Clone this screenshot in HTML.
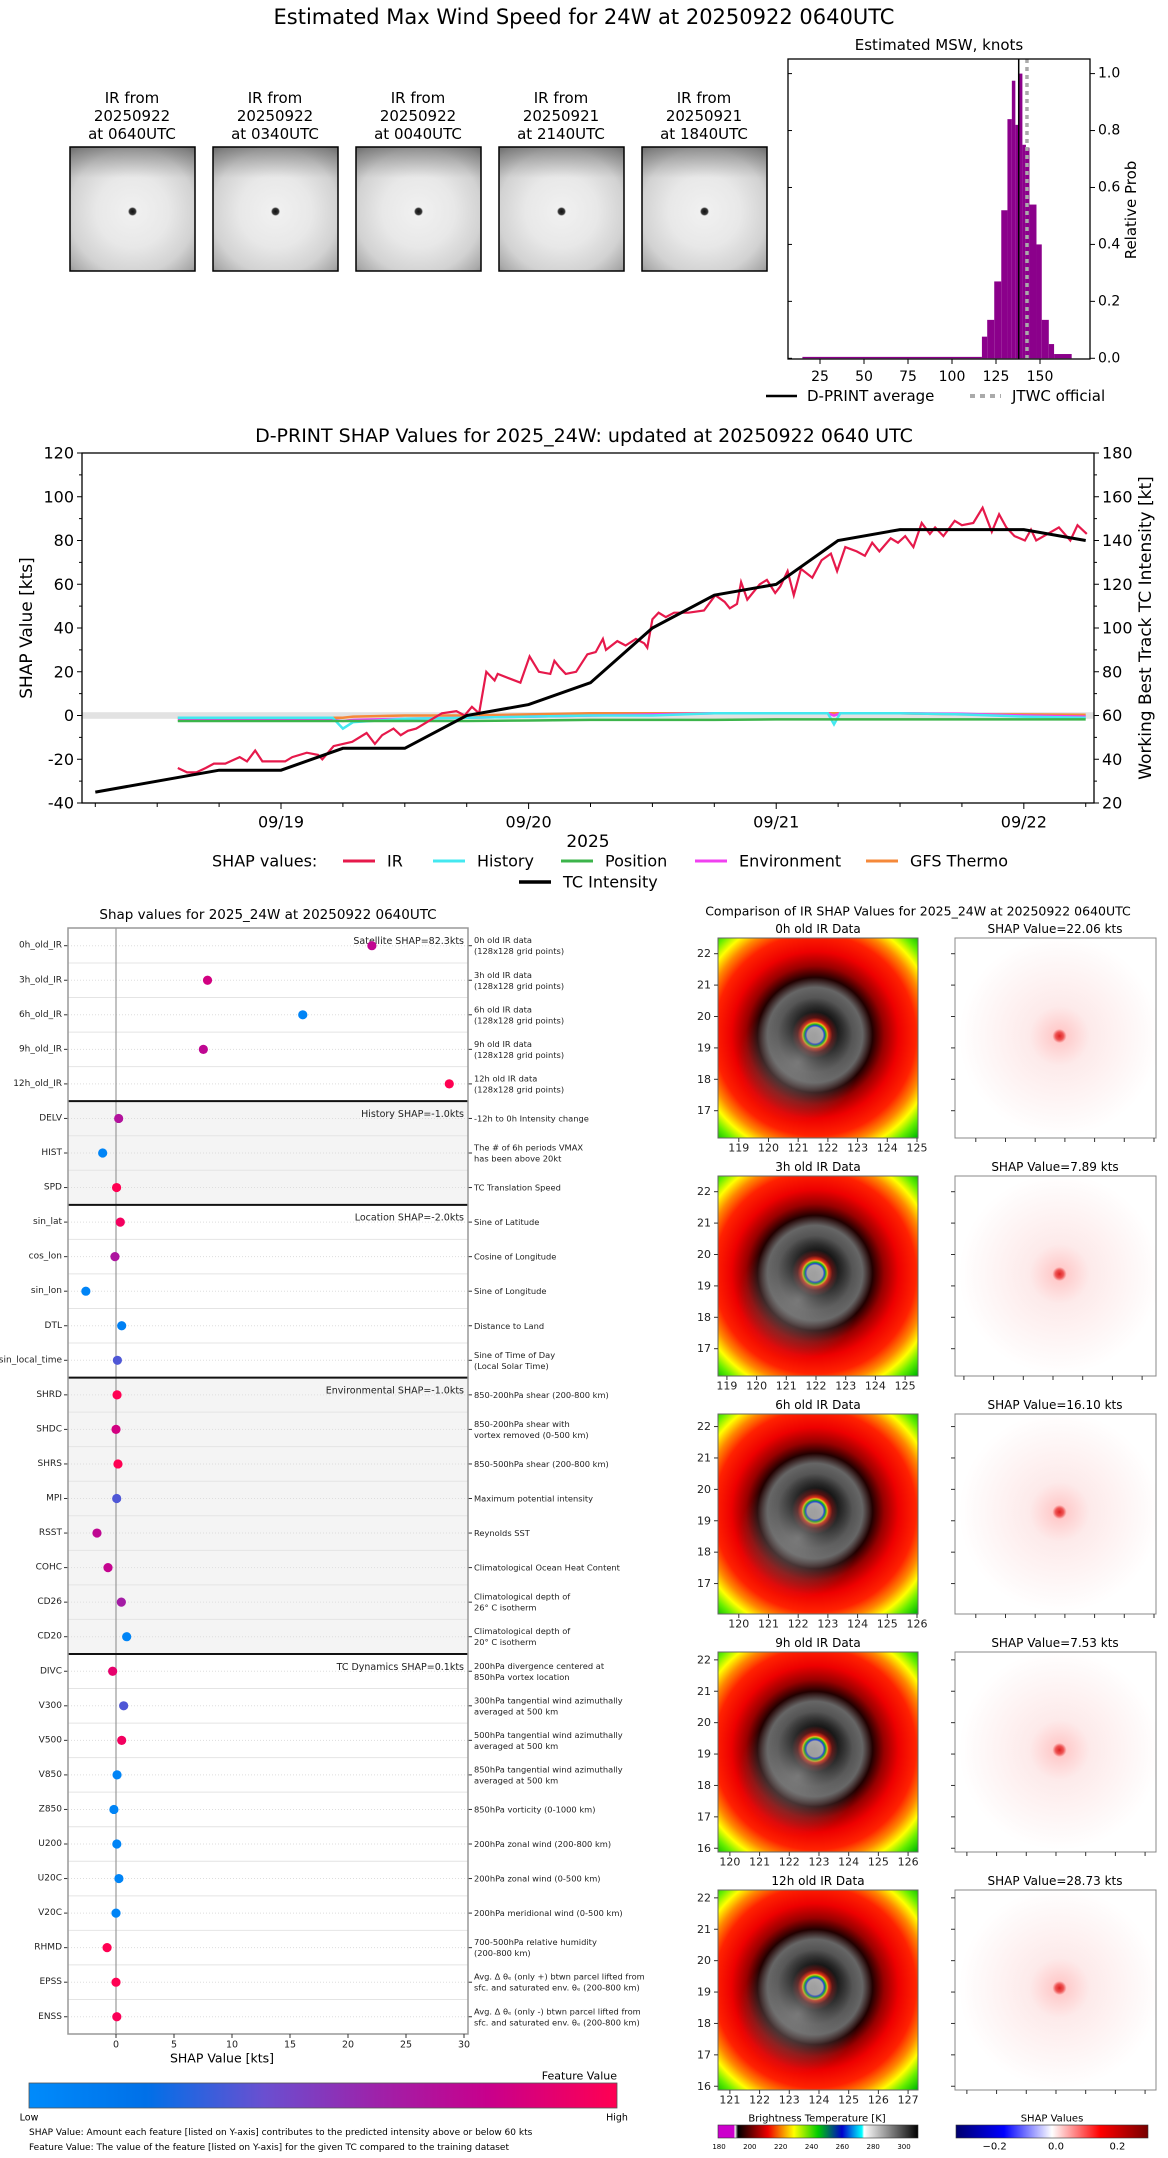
<!DOCTYPE html>
<html><head><meta charset="utf-8"><title>D-PRINT 24W</title>
<style>html,body{margin:0;padding:0;background:#fff}svg{display:block;font-family:"DejaVu Sans","Liberation Sans",sans-serif}</style>
</head><body>
<svg id="s" width="1168" height="2158" viewBox="0 0 1168 2158" xmlns="http://www.w3.org/2000/svg">
<defs>
<radialGradient id="gthumb" cx="50%" cy="52%" r="72%">
<stop offset="0" stop-color="#111"/><stop offset="0.035" stop-color="#333"/><stop offset="0.05" stop-color="#f0f0f0"/>
<stop offset="0.4" stop-color="#e8e8e8"/><stop offset="0.7" stop-color="#d2d2d2"/><stop offset="0.9" stop-color="#aaa"/><stop offset="1" stop-color="#888"/></radialGradient>
<linearGradient id="gthumbtop" x1="0" x2="0" y1="0" y2="1"><stop offset="0" stop-color="#555" stop-opacity="0.55"/><stop offset="0.25" stop-color="#777" stop-opacity="0"/><stop offset="1" stop-color="#777" stop-opacity="0"/></linearGradient>
<radialGradient id="gir" cx="48.5%" cy="48.5%" r="72%">
<stop offset="0" stop-color="#b8b8b8"/><stop offset="0.055" stop-color="#c0c0c0"/><stop offset="0.065" stop-color="#0030ff"/><stop offset="0.075" stop-color="#00d000"/><stop offset="0.085" stop-color="#ffe000"/><stop offset="0.095" stop-color="#ff2000"/><stop offset="0.12" stop-color="#500"/><stop offset="0.16" stop-color="#111"/><stop offset="0.26" stop-color="#555"/><stop offset="0.33" stop-color="#666"/><stop offset="0.4" stop-color="#200"/><stop offset="0.48" stop-color="#900"/><stop offset="0.58" stop-color="#e00"/><stop offset="0.7" stop-color="#f20"/><stop offset="0.78" stop-color="#f80"/><stop offset="0.85" stop-color="#ff0"/><stop offset="0.92" stop-color="#6e0"/><stop offset="1" stop-color="#0b0"/></radialGradient>
<radialGradient id="ggray" cx="40%" cy="62%" r="30%"><stop offset="0" stop-color="#888" stop-opacity="0.8"/><stop offset="1" stop-color="#666" stop-opacity="0"/></radialGradient>
<radialGradient id="gshap" cx="52%" cy="49%" r="50%">
<stop offset="0" stop-color="#d22"/><stop offset="0.04" stop-color="#e55"/><stop offset="0.07" stop-color="#fcc"/><stop offset="0.3" stop-color="#fdeaea"/><stop offset="0.7" stop-color="#fef6f6"/><stop offset="1" stop-color="#fff"/></radialGradient>
<linearGradient id="gfeat" x1="0" x2="1"><stop offset="0" stop-color="#008bfb"/><stop offset="0.2" stop-color="#0070e8"/><stop offset="0.4" stop-color="#6a4fd0"/><stop offset="0.6" stop-color="#a020a8"/><stop offset="0.78" stop-color="#c8008c"/><stop offset="1" stop-color="#ff0052"/></linearGradient>
<linearGradient id="gbt" x1="0" x2="1"><stop offset="0" stop-color="#c0c"/><stop offset="0.08" stop-color="#c0c"/><stop offset="0.085" stop-color="#fff"/><stop offset="0.1" stop-color="#000"/><stop offset="0.25" stop-color="#e00"/><stop offset="0.38" stop-color="#ff0"/><stop offset="0.5" stop-color="#0c0"/><stop offset="0.62" stop-color="#00c"/><stop offset="0.72" stop-color="#0ff"/><stop offset="0.73" stop-color="#fff"/><stop offset="1" stop-color="#000"/></linearGradient>
<linearGradient id="gsv" x1="0" x2="1"><stop offset="0" stop-color="#00006e"/><stop offset="0.25" stop-color="#0000ff"/><stop offset="0.5" stop-color="#fff"/><stop offset="0.75" stop-color="#f00"/><stop offset="1" stop-color="#700"/></linearGradient>
</defs>
<text x="584" y="24" font-size="21" text-anchor="middle">Estimated Max Wind Speed for 24W at 20250922 0640UTC</text>
</svg>
<script>
const svg=document.getElementById('s');const NS='http://www.w3.org/2000/svg';
function mk(tag,attrs,parent){const e=document.createElementNS(NS,tag);for(const k in attrs)e.setAttribute(k,attrs[k]);(parent||svg).appendChild(e);return e;}
function tx(str,x,y,size,anchor,extra){const e=mk('text',Object.assign({x:x,y:y,'font-size':size,'text-anchor':anchor||'start','dominant-baseline':'central'},extra||{}));e.textContent=str;return e;}

/* ---------- thumbnails ---------- */
const thumbDates=['20250922','20250922','20250922','20250921','20250921'];
const thumbTimes=['0640UTC','0340UTC','0040UTC','2140UTC','1840UTC'];
thumbDates.forEach((d,i)=>{const L=70+i*143;
 let t=tx('IR from',L+62,98,15,'middle');
 t=tx(d,L+62,116,15,'middle');
 t=tx('at '+thumbTimes[i],L+62,134,15,'middle');
 const r=mk('rect',{x:L,y:147,width:125,height:124,fill:'url(#gthumb)'});
 
 
 mk('rect',{x:L,y:147,width:125,height:124,fill:'url(#gthumbtop)',stroke:'#000','stroke-width':1.5});
});

/* ---------- histogram ---------- */
const histEdges=[15,117,120,124,128,131.5,134,136,138,140,142,144,148,151,155,158,168];
const histProb=[0.005,0.076,0.135,0.27,0.52,0.84,0.975,0.82,1.0,0.75,0.74,0.54,0.40,0.135,0.05,0.015];
const dprintAvg=137.9, jtwcOfficial=142.6;
const hx=k=>776+k*1.76, hy=p=>358.3-p*284.7;
for(let i=0;i<histProb.length;i++){const b=mk('rect',{x:hx(histEdges[i]),y:hy(histProb[i]),width:hx(histEdges[i+1])-hx(histEdges[i]),height:358.3-hy(histProb[i]),fill:'#8b008b'});
 
 }
let e=mk('line',{x1:hx(jtwcOfficial),x2:hx(jtwcOfficial),y1:59,y2:359,stroke:'#aaa','stroke-width':3.5,'stroke-dasharray':'4,4'});

e=mk('line',{x1:hx(dprintAvg),x2:hx(dprintAvg),y1:59,y2:359,stroke:'#000','stroke-width':1.5});

e=mk('rect',{x:788,y:59,width:302,height:300,fill:'none',stroke:'#000','stroke-width':1.3});

e=tx('Estimated MSW, knots',939,45,15,'middle');
const histXTicks=[25,50,75,100,125,150];
histXTicks.forEach(v=>{mk('line',{x1:hx(v),x2:hx(v),y1:359,y2:364,stroke:'#000'});
 const t=tx(String(v),hx(v),377,14,'middle');});
const histYTicks=[0,0.2,0.4,0.6,0.8,1.0];
histYTicks.forEach(v=>{mk('line',{x1:1090,x2:1095,y1:hy(v),y2:hy(v),stroke:'#000'});mk('line',{x1:788,x2:792,y1:hy(v),y2:hy(v),stroke:'#000'});
 const t=tx(v.toFixed(1),1098,hy(v),14,'start');});
e=tx('Relative Prob',1131,210,15,'middle',{transform:'rotate(-90 1131 210)'});
e=mk('line',{x1:766,x2:797,y1:396,y2:396,stroke:'#000','stroke-width':2.5});
e=tx('D-PRINT average',807,396,15,'start');
e=mk('line',{x1:970,x2:1001,y1:396,y2:396,stroke:'#aaa','stroke-width':4,'stroke-dasharray':'5,5'});
e=tx('JTWC official',1012,396,15,'start');

/* ---------- SHAP time series ---------- */
const irHours=[14,14.9,15.8,16.7,17.5,18.6,20,20.7,21.5,22.2,22.9,24.4,25.1,26.5,27.6,28,29.1,30.9,32.3,33.1,33.8,34.9,35.6,36.3,37.1,38.5,39.6,41,41.8,42.5,43.2,43.9,44.7,45,46.1,47.2,48.1,49,50.1,50.5,51,51.6,52.6,53.7,54.5,55.2,55.5,56.6,57.4,58.4,59.2,59.5,60,60.6,61.3,62.1,63.5,65,66.1,67,67.5,68.2,68.6,69.2,70.4,71.1,71.9,72.4,73.1,73.7,74.4,75.5,76.4,77.3,77.9,78.7,79.8,80.6,81.3,82,83.1,83.8,84.5,85.3,86.1,86.9,87.4,88.2,89.3,90,91.1,92,92.9,93.6,94.3,95.1,96.1,96.7,97.2,98.3,99.4,100.5,101.2,102.1];
const irShap=[-24,-26,-26,-24,-22,-22,-19,-21,-16,-21,-21,-21,-19,-17,-18,-20,-14,-12,-8,-13,-9,-6,-9,-7,-6,-2,1,2,0,4,1,20,16,19,17,15,27,20,19,25,22,19,20,28,29,35,30,34,32,35,33,31,44,47,45,47,47,48,55,52,49,51,61,53,60,62,56,59,66,55,67,63,71,74,66,77,75,73,79,75,81,79,82,77,88,83,86,82,89,87,88,95,84,92,86,82,80,85,80,83,86,80,87,83];
const minorHours=[14,24,29,30,31,36,42,48,54,60,66,72,77,77.6,78.2,84,90,96,102];
const historyShap=[-1,-1,-1,-6,-3,-1.5,-1,-0.5,0,0,1,1,1,-4,1,1,0.5,-0.5,-1];
const positionShap=[-2.5,-2.5,-2.5,-2.5,-2.5,-2.5,-2.5,-2.3,-2,-2,-2,-1.8,-1.8,-1.8,-1.8,-1.8,-1.8,-1.8,-1.8];
const environmentShap=[-2,-2,-2,-2.5,-2,-1.5,-1,-0.5,0,0.5,1,1,1,0,1,1,0.8,0,-0.5];
const gfsShap=[-1,-1,-1,-1,-0.5,0,0,0.5,1,1,1,1,1,1,1,1,0.5,0.5,0.3];
const tcHours=[6,18,24,30,36,42,48,54,60,66,72,78,84,90,96,102];
const tcIntensity=[25,35,35,45,45,60,65,75,100,115,120,140,145,145,145,140];
const dateLabels=['09/19','09/20','09/21','09/22'];
const leftTicks=[-40,-20,0,20,40,60,80,100,120];
const rightTicks=[20,40,60,80,100,120,140,160,180];
const xT=t=>281+(t-24)*10.317, yL=v=>453+(120-v)*2.1875, yR=k=>453+(180-k)*2.1875;
e=tx('D-PRINT SHAP Values for 2025_24W: updated at 20250922 0640 UTC',584,436,19,'middle');
e=mk('rect',{x:82,y:yL(1.5),width:1012,height:yL(-1.5)-yL(1.5),fill:'#e2e2e2'});
function path(xs,ys,fx,fy){return xs.map((t,i)=>(i?'L':'M')+fx(t).toFixed(1)+','+fy(ys[i]).toFixed(1)).join(' ');}
const minorSeries=[[gfsShap,'#f5893a','gfs-thermo-line'],[environmentShap,'#f040f0','environment-line'],[historyShap,'#44e8f0','history-line'],[positionShap,'#3cb44b','position-line']];
minorSeries.forEach(s=>{const p=mk('path',{d:path(minorHours,s[0],xT,yL),fill:'none',stroke:s[1],'stroke-width':2.5});
 
 });
e=mk('path',{d:path(irHours,irShap,xT,yL),fill:'none',stroke:'#e6194b','stroke-width':2.2});
e=mk('path',{d:path(tcHours,tcIntensity,xT,yR),fill:'none',stroke:'#000','stroke-width':3});
e=mk('rect',{x:82,y:453,width:1012,height:350,fill:'none',stroke:'#000','stroke-width':1.3});
leftTicks.forEach(v=>{mk('line',{x1:77,x2:82,y1:yL(v),y2:yL(v),stroke:'#000'});if(v<120)mk('line',{x1:79,x2:82,y1:yL(v+10),y2:yL(v+10),stroke:'#000'});
 const t=tx(String(v),74,yL(v),16,'end');});
rightTicks.forEach(v=>{mk('line',{x1:1094,x2:1099,y1:yR(v),y2:yR(v),stroke:'#000'});if(v<180)mk('line',{x1:1094,x2:1097,y1:yR(v+10),y2:yR(v+10),stroke:'#000'});
 const t=tx(String(v),1102,yR(v),16,'start');});
for(let h=6;h<=102;h+=6){mk('line',{x1:xT(h),x2:xT(h),y1:803,y2:h%24?807:809,stroke:'#000'});}
dateLabels.forEach((d,i)=>{const t=tx(d,xT(24*(i+1)),822,16,'middle');});
e=tx('2025',588,842,17,'middle');
e=tx('SHAP Value [kts]',27,628,17,'middle',{transform:'rotate(-90 27 628)'});
e=tx('Working Best Track TC Intensity [kt]',1146,628,17,'middle',{transform:'rotate(-90 1146 628)'});
e=tx('SHAP values:',212,861,16,'start');
const legendItems=[['IR','#e6194b',343],['History','#44e8f0',433],['Position','#3cb44b',561],['Environment','#f040f0',695],['GFS Thermo','#f5893a',866]];
legendItems.forEach(l=>{const s=mk('line',{x1:l[2],x2:l[2]+32,y1:861,y2:861,stroke:l[1],'stroke-width':3});
 
 const t=tx(l[0],l[2]+44,861,16,'start');});
e=mk('line',{x1:519,x2:551,y1:882,y2:882,stroke:'#000','stroke-width':3.5});
e=tx('TC Intensity',563,882,16,'start');

/* ---------- feature SHAP dot panel ---------- */
const features=['0h_old_IR','3h_old_IR','6h_old_IR','9h_old_IR','12h_old_IR','DELV','HIST','SPD','sin_lat','cos_lon','sin_lon','DTL','sin_local_time','SHRD','SHDC','SHRS','MPI','RSST','COHC','CD26','CD20','DIVC','V300','V500','V850','Z850','U200','U20C','V20C','RHMD','EPSS','ENSS'];
const featureShap=[22.06,7.89,16.10,7.53,28.73,0.23,-1.15,0.05,0.37,-0.09,-2.6,0.49,0.12,0.09,0.0,0.17,0.06,-1.64,-0.69,0.46,0.92,-0.29,0.66,0.49,0.09,-0.18,0.07,0.25,0.0,-0.77,0.0,0.07];
const featureVal=[0.75,0.82,0.05,0.74,1.0,0.68,0.05,1.0,0.95,0.66,0.05,0.08,0.35,1.0,0.82,1.0,0.35,0.74,0.76,0.62,0.05,0.9,0.35,0.95,0.05,0.05,0.05,0.05,0.05,1.0,1.0,0.98];
const featureDesc=[['0h old IR data','(128x128 grid points)'],['3h old IR data','(128x128 grid points)'],['6h old IR data','(128x128 grid points)'],['9h old IR data','(128x128 grid points)'],['12h old IR data','(128x128 grid points)'],['-12h to 0h Intensity change'],['The # of 6h periods VMAX','has been above 20kt'],['TC Translation Speed'],['Sine of Latitude'],['Cosine of Longitude'],['Sine of Longitude'],['Distance to Land'],['Sine of Time of Day','(Local Solar Time)'],['850-200hPa shear (200-800 km)'],['850-200hPa shear with','vortex removed (0-500 km)'],['850-500hPa shear (200-800 km)'],['Maximum potential intensity'],['Reynolds SST'],['Climatological Ocean Heat Content'],['Climatological depth of','26° C isotherm'],['Climatological depth of','20° C isotherm'],['200hPa divergence centered at','850hPa vortex location'],['300hPa tangential wind azimuthally','averaged at 500 km'],['500hPa tangential wind azimuthally','averaged at 500 km'],['850hPa tangential wind azimuthally','averaged at 500 km'],['850hPa vorticity (0-1000 km)'],['200hPa zonal wind (200-800 km)'],['200hPa zonal wind (0-500 km)'],['200hPa meridional wind (0-500 km)'],['700-500hPa relative humidity','(200-800 km)'],['Avg. Δ θₑ (only +) btwn parcel lifted from','sfc. and saturated env. θₑ (200-800 km)'],['Avg. Δ θₑ (only -) btwn parcel lifted from','sfc. and saturated env. θₑ (200-800 km)']];
const groupNames=['Satellite SHAP=82.3kts','History SHAP=-1.0kts','Location SHAP=-2.0kts','Environmental SHAP=-1.0kts','TC Dynamics SHAP=0.1kts'];
const groupStart=[0,5,8,13,21];
const shapXTicks=[0,5,10,15,20,25,30];
const fx=v=>116+v*11.6, fy=i=>945.7+i*34.55;
e=tx('Shap values for 2025_24W at 20250922 0640UTC',268,915,13.5,'middle');
[[5,8],[13,21]].forEach(g=>{const r=mk('rect',{x:68,y:fy(g[0]-0.5),width:400,height:fy(g[1]-0.5)-fy(g[0]-0.5),fill:'#f4f4f4'});});
for(let i=0;i<features.length;i++){mk('line',{x1:68,x2:468,y1:fy(i+0.5),y2:fy(i+0.5),stroke:'#e4e4e4'});mk('line',{x1:68,x2:468,y1:fy(i),y2:fy(i),stroke:'#ddd','stroke-dasharray':'1,2'});}
e=mk('line',{x1:fx(0),x2:fx(0),y1:928,y2:2034,stroke:'#999','stroke-width':1.2});
groupStart.forEach((g,k)=>{if(k>0){const l=mk('line',{x1:68,x2:468,y1:fy(g-0.5),y2:fy(g-0.5),stroke:'#111','stroke-width':2});}
 const t=tx(groupNames[k],464,fy(g)-4,9.5,'end',{fill:'#222'});});
function fcol(v){const st=[[0,[0,139,251]],[0.2,[0,112,232]],[0.4,[106,79,208]],[0.6,[160,32,168]],[0.78,[200,0,140]],[1,[255,0,82]]];for(let i=1;i<st.length;i++){if(v<=st[i][0]){const a=st[i-1],b=st[i],f=(v-a[0])/(b[0]-a[0]);return 'rgb('+a[1].map((c,j)=>Math.round(c+(b[1][j]-c)*f)).join(',')+')';}}return 'rgb(255,0,82)';}
features.forEach((f,i)=>{mk('line',{x1:64,x2:68,y1:fy(i),y2:fy(i),stroke:'#333'});mk('line',{x1:468,x2:472,y1:fy(i),y2:fy(i),stroke:'#333'});
 const t=tx(f,62,fy(i),9,'end',{fill:'#222'});
 const d=featureDesc[i];d.forEach((s,j)=>{const q=tx(s,474,fy(i)+(d.length==2?(j?5.5:-5.5):0),8.3,'start',{fill:'#222'});});
 const c=mk('circle',{cx:fx(featureShap[i]),cy:fy(i),r:4.6,fill:fcol(featureVal[i])});
 
 });
e=mk('rect',{x:68,y:928,width:400,height:1106,fill:'none',stroke:'#999','stroke-width':1.5});
shapXTicks.forEach(v=>{mk('line',{x1:fx(v),x2:fx(v),y1:2034,y2:2038,stroke:'#333'});const t=tx(String(v),fx(v),2045,9.5,'middle',{fill:'#222'});});
e=tx('SHAP Value [kts]',222,2058,12.5,'middle');
e=tx('Feature Value',617,2076,11,'end');
e=mk('rect',{x:29,y:2083,width:588,height:25,fill:'url(#gfeat)',stroke:'#555','stroke-width':0.8});
e=tx('Low',29,2118,9.5,'middle');
e=tx('High',617,2118,9.5,'middle');
e=tx('SHAP Value: Amount each feature [listed on Y-axis] contributes to the predicted intensity above or below 60 kts',29,2133,9,'start');
e=tx('Feature Value: The value of the feature [listed on Y-axis] for the given TC compared to the training dataset',29,2148,9,'start');

/* ---------- IR comparison panels ---------- */
const irTitles=['0h old IR Data','3h old IR Data','6h old IR Data','9h old IR Data','12h old IR Data'];
const irShapTitles=['SHAP Value=22.06 kts','SHAP Value=7.89 kts','SHAP Value=16.10 kts','SHAP Value=7.53 kts','SHAP Value=28.73 kts'];
const latTop=[22.5,22.5,22.4,22.25,22.25];
const lonLeft=[118.3,118.7,119.3,119.6,120.6];
const latMin=[17,17,17,16,16];
e=tx('Comparison of IR SHAP Values for 2025_24W at 20250922 0640UTC',918,911,12.5,'middle');
irTitles.forEach((tt,i)=>{const T=938+i*238;
 let t=tx(tt,818,T-9,12,'middle');
 t=tx(irShapTitles[i],1055,T-9,12,'middle');
 let r=mk('rect',{x:718,y:T,width:200,height:200,fill:'url(#gir)'});
 mk('rect',{x:718,y:T,width:200,height:200,fill:'url(#ggray)'});
 mk('rect',{x:718,y:T,width:200,height:200,fill:'none',stroke:'#666'});
 r=mk('rect',{x:955,y:T,width:201,height:200,fill:'url(#gshap)',stroke:'#888'});
 for(let la=latMin[i];la<=22;la++){const y=T+(latTop[i]-la)*31.4;mk('line',{x1:714,x2:718,y1:y,y2:y,stroke:'#333'});mk('line',{x1:951,x2:955,y1:y,y2:y,stroke:'#333'});
  const q=tx(String(la),711,y,11,'end',{fill:'#222'});}
 for(let k=0;k<7;k++){const lo=Math.ceil(lonLeft[i])+k;const x=718+(lo-lonLeft[i])*29.7;if(x>920)break;mk('line',{x1:x,x2:x,y1:T+200,y2:T+204,stroke:'#333'});mk('line',{x1:x+237,x2:x+237,y1:T+200,y2:T+204,stroke:'#333'});
  const q=tx(String(lo),x,T+210,11,'middle',{fill:'#222'});}
});
const btTicks=[180,200,220,240,260,280,300];
e=tx('Brightness Temperature [K]',817,2119,10,'middle');
e=mk('rect',{x:718,y:2125,width:200,height:13,fill:'url(#gbt)',stroke:'#333','stroke-width':0.6});
btTicks.forEach(v=>{const t=tx(String(v),719+(v-180)*1.542,2147,7,'middle');});
const svTicks=[-0.2,0.0,0.2];
e=tx('SHAP Values',1052,2119,10,'middle');
e=mk('rect',{x:956,y:2125,width:192,height:13,fill:'url(#gsv)',stroke:'#333','stroke-width':0.6});
svTicks.forEach(v=>{const t=tx((v<0?'\u2212':'')+Math.abs(v).toFixed(1),1056+v*307,2147,10,'middle');});
</script>
</body></html>
